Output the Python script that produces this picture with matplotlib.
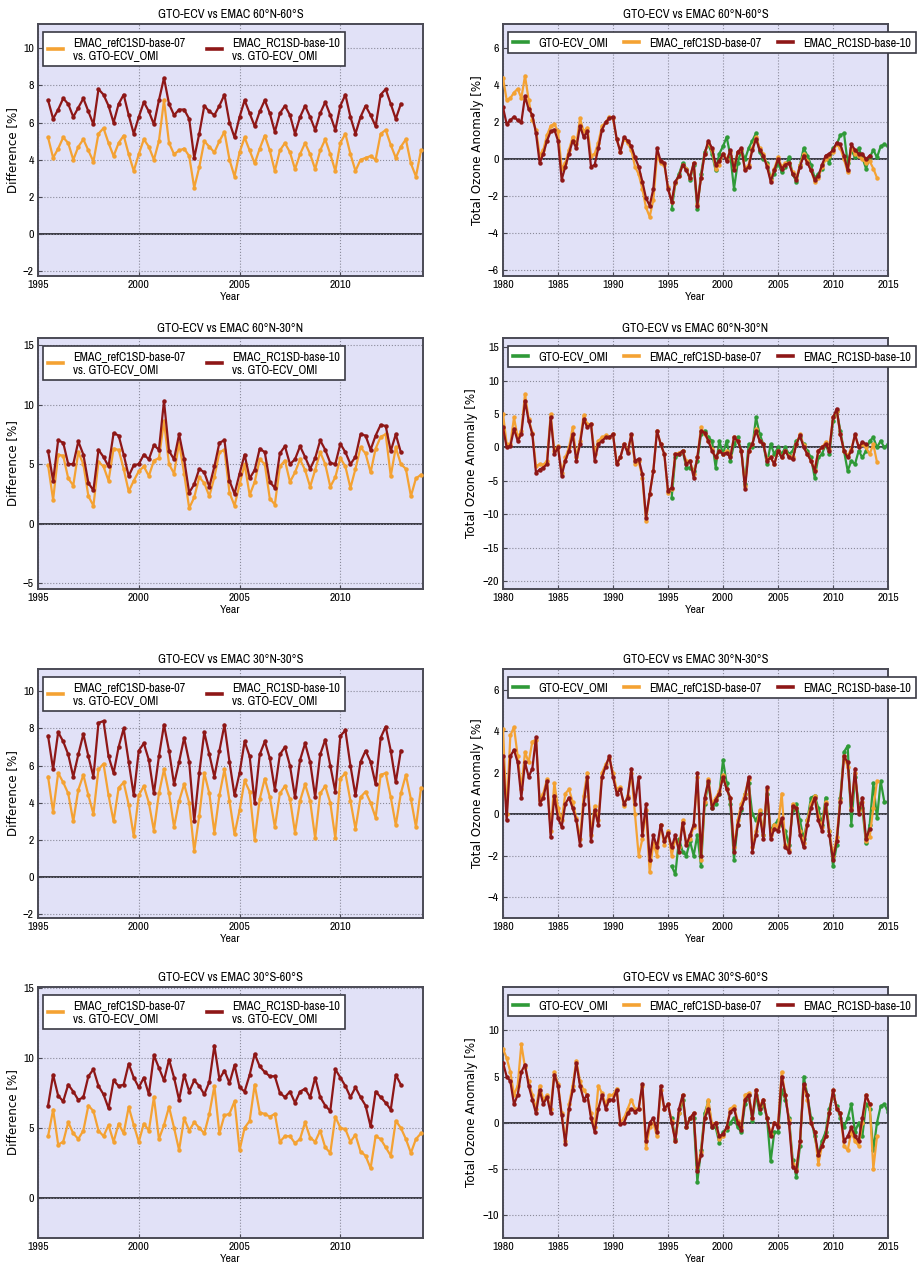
import numpy as np
import matplotlib
matplotlib.use("Agg")
import matplotlib.pyplot as plt
from matplotlib import font_manager

NARROW = ["Archivo Narrow", "Liberation Sans Narrow", "Liberation Sans", "DejaVu Sans"]
WIDE = ["DejaVu Sans"]

C_REF = "#f4a233"
C_RC1 = "#8e1717"
C_OMI = "#2f9a38"
BG = "#e1e1f7"

TITLES = ["GTO-ECV vs EMAC 60°N-60°S", "GTO-ECV vs EMAC 60°N-30°N",
          "GTO-ECV vs EMAC 30°N-30°S", "GTO-ECV vs EMAC 30°S-60°S"]
LAB_REF = "EMAC_refC1SD-base-07"
LAB_RC1 = "EMAC_RC1SD-base-10"
LAB_OMI = "GTO-ECV_OMI"

# ---- difference panels (left), quarterly values starting 1995.5 ----
DIFF_START = 1995.5
diff_rc1_6060 = [7.2, 6.2,
                 6.7, 7.3, 7.0, 6.3, 6.8, 7.3, 6.6, 5.9, 7.8, 7.5, 6.9, 6.0, 7.0, 7.5, 6.4, 5.4,
                 6.3, 7.1, 6.6, 5.9, 7.2, 8.4, 7.0, 6.4, 6.7, 6.7, 6.2, 4.1, 5.4, 6.9, 6.6, 6.4,
                 6.9, 7.5, 6.0, 5.2, 6.3, 7.2, 6.5, 5.8, 6.6, 7.2, 6.5, 5.5, 6.5, 6.9, 6.4, 5.4,
                 6.3, 6.9, 6.3, 5.6, 6.5, 7.1, 6.4, 5.6, 6.9, 7.5, 6.3, 5.4, 6.3, 6.9, 6.4, 5.8,
                 7.5, 7.8, 7.0, 6.2, 7.0]
diff_ref_6060 = [5.2, 4.1,
                 4.6, 5.2, 4.9, 4.0, 4.7, 5.1, 4.5, 3.9, 5.4, 5.7, 4.9, 4.2, 4.9, 5.3, 4.3, 3.4,
                 4.3, 5.1, 4.7, 4.0, 5.0, 7.2, 4.9, 4.3, 4.5, 4.6, 4.2, 2.5, 3.6, 5.0, 4.7, 4.4,
                 5.0, 5.5, 4.0, 3.1, 4.4, 5.2, 4.5, 3.8, 4.6, 5.3, 4.5, 3.4, 4.5, 4.9, 4.4, 3.5,
                 4.3, 4.9, 4.3, 3.5, 4.5, 5.1, 4.3, 3.4, 4.9, 5.4, 4.3, 3.4, 4.0, 4.1, 4.2, 4.0,
                 5.4, 5.6, 4.8, 4.1, 4.7, 5.1, 3.8, 3.1, 4.5]
diff_rc1_6030 = [6.1, 3.6,
                 7.0, 6.8, 5.0, 5.0, 6.9, 5.8, 3.4, 2.8, 6.2, 5.6, 4.8, 7.6, 7.4, 5.8, 4.0, 4.9,
                 5.0, 5.8, 5.4, 6.6, 6.2, 10.3, 6.1, 5.4, 7.5, 5.4, 2.6, 3.3, 4.6, 4.3, 3.1, 4.8,
                 6.8, 7.0, 3.6, 2.5, 4.2, 5.8, 3.8, 4.5, 6.3, 6.0, 3.5, 3.0, 5.9, 6.5, 5.0, 5.4,
                 6.5, 5.6, 4.6, 5.5, 7.0, 6.2, 5.1, 5.0, 6.7, 6.0, 5.0, 5.6, 7.5, 7.4, 6.2, 7.4,
                 8.3, 8.2, 6.1, 7.5, 6.0]
diff_ref_6030 = [4.9, 2.0,
                 5.8, 5.7, 3.8, 3.2, 6.0, 5.0, 2.3, 1.5, 5.2, 4.8, 3.6, 6.3, 6.2, 4.6, 2.7, 3.6,
                 4.4, 4.8, 4.0, 5.3, 5.5, 8.6, 5.0, 4.2, 6.8, 4.2, 1.3, 2.2, 3.9, 3.4, 2.3, 3.9,
                 6.0, 6.2, 2.6, 1.5, 3.3, 5.0, 2.4, 3.5, 5.4, 5.0, 2.1, 1.6, 4.8, 5.3, 3.5, 4.3,
                 5.4, 4.5, 3.1, 4.5, 6.0, 5.0, 3.1, 3.9, 5.5, 4.8, 3.0, 4.6, 6.4, 5.9, 4.3, 6.3,
                 7.3, 7.5, 4.0, 6.4, 5.0, 4.6, 2.3, 3.8, 4.1]
diff_rc1_3030 = [7.6, 5.8,
                 7.8, 7.3, 6.6, 5.4, 6.6, 7.7, 6.5, 5.4, 8.3, 8.4, 6.5, 5.6, 7.0, 8.0, 6.2, 4.4,
                 6.8, 7.2, 6.3, 4.5, 6.5, 8.2, 6.8, 5.0, 6.2, 7.5, 6.2, 3.0, 5.6, 7.8, 6.6, 5.4,
                 6.8, 8.2, 6.2, 4.4, 5.6, 7.3, 6.5, 4.0, 6.6, 7.3, 6.4, 4.7, 6.6, 7.0, 6.0, 4.3,
                 6.3, 7.2, 6.2, 4.3, 6.6, 7.4, 6.0, 4.6, 7.6, 7.9, 6.0, 4.4, 6.2, 6.8, 6.2, 5.0,
                 7.5, 8.1, 6.8, 5.1, 6.8]
diff_ref_3030 = [5.4, 3.5,
                 5.6, 5.1, 4.5, 3.0, 4.7, 5.5, 4.4, 3.4, 5.8, 6.1, 4.4, 3.0, 4.8, 5.1, 3.9, 2.2,
                 4.4, 4.9, 4.0, 2.5, 4.5, 5.8, 4.5, 2.7, 4.1, 5.0, 4.0, 1.4, 3.3, 5.6, 4.5, 2.4,
                 4.4, 5.8, 4.1, 2.3, 3.6, 5.2, 4.6, 2.0, 4.2, 5.3, 4.3, 2.7, 4.5, 4.9, 4.2, 2.4,
                 4.1, 5.0, 4.1, 2.1, 4.5, 4.9, 4.0, 2.1, 5.3, 5.6, 4.1, 2.6, 4.3, 4.6, 4.0, 3.2,
                 5.5, 5.6, 4.3, 2.8, 4.5, 5.5, 4.2, 2.7, 4.8]
diff_rc1_3060 = [6.6, 8.8,
                 7.3, 6.9, 8.1, 7.6, 7.0, 7.2, 8.7, 9.2, 8.0, 7.4, 6.4, 8.4, 8.0, 8.1, 9.6, 8.6,
                 7.9, 8.6, 7.4, 10.2, 9.3, 8.4, 9.9, 8.6, 7.0, 8.8, 7.6, 8.4, 8.0, 7.4, 8.3, 10.9,
                 8.5, 9.1, 8.2, 9.5, 7.9, 7.6, 8.8, 10.3, 9.4, 9.0, 8.7, 8.7, 7.5, 7.2, 7.6, 6.8,
                 7.6, 7.8, 7.2, 8.6, 7.2, 6.6, 6.2, 9.2, 8.6, 8.0, 7.2, 7.9, 7.2, 6.6, 5.1, 7.6,
                 7.2, 6.8, 6.3, 8.8, 8.1]
diff_ref_3060 = [4.4, 6.3,
                 3.8, 4.0, 5.4, 4.6, 4.2, 4.8, 6.6, 6.2, 4.8, 4.4, 5.2, 4.0, 5.3, 4.6, 6.5, 5.2,
                 4.0, 5.3, 4.8, 7.2, 4.2, 5.2, 6.5, 5.0, 3.4, 5.7, 4.8, 5.4, 5.0, 4.6, 6.0, 8.0,
                 4.6, 5.9, 6.0, 6.9, 3.4, 5.0, 5.5, 8.1, 6.1, 6.0, 5.8, 6.0, 4.0, 4.4, 4.4, 3.9,
                 4.2, 5.4, 4.3, 4.0, 4.8, 3.6, 3.2, 5.8, 5.0, 4.9, 4.0, 4.5, 3.3, 3.0, 2.1, 4.4,
                 4.2, 3.6, 3.0, 5.5, 5.0, 4.2, 3.2, 4.2, 4.6]

# ---- anomaly panels (right), three values per year ----
ANOM_START = 1980.0
OMI_START = 1995.0 + 1 / 3
anom_rc1_6060 = [2.8, 1.9, 2.1, 2.3, 2.1, 2.0, 3.4, 2.7, 2.4, 1.4, -0.2, 0.3, 1.0, 1.5, 1.6,
                 1.0, -1.1, -0.4, 0.3, 1.0, 0.6, 1.8, 1.2, 1.5, -0.4, -0.3, 0.6, 1.6, 2.0, 2.2,
                 2.3, 1.1, 0.4, 1.2, 1.0, 0.7, 0.1, -0.4, -1.2, -2.1, -2.5, -1.6, 0.6, -0.1, -0.2,
                 -1.6, -2.3, -1.2, -0.9, -0.3, -0.6, -1.0, -0.2, -2.5, -1.0, 0.3, 1.0, 0.6, -0.3, -0.1,
                 0.3, -0.1, 0.5, -0.6, 0.4, 0.6, -0.6, -0.4, 0.5, 1.1, 0.5, 0.2, -0.4, -1.2, -0.6,
                 0.0, -0.5, -0.3, -0.2, -0.8, -1.1, -0.4, 0.2, -0.2, -0.6, -1.1, -0.9, -0.3, 0.2, 0.3,
                 0.5, 0.9, 0.8, 0.2, -0.6, 0.8, 0.5, 0.3, 0.3, 0.0, 0.2]
anom_ref_6060 = [4.4, 3.2, 3.3, 3.6, 3.8, 3.3, 4.5, 3.2, 2.1, 1.6, 0.2, 0.5, 1.3, 1.8, 1.9,
                 1.5, -0.5, -0.2, 0.5, 1.2, 0.8, 2.2, 1.5, 1.7, 0.2, 0.3, 0.9, 1.8, 2.0, 2.3,
                 2.2, 1.1, 0.4, 1.1, 0.9, 0.5, -0.4, -0.8, -1.6, -2.6, -3.1, -2.2, 0.2, -0.2, -0.3,
                 -1.5, -2.3, -1.3, -0.9, -0.3, -0.5, -1.0, -0.2, -2.4, -1.0, 0.3, 0.9, 0.5, -0.5, -0.3,
                 0.3, 0.0, 0.4, -0.4, 0.4, 0.5, -0.5, -0.3, 0.6, 1.2, 0.6, 0.3, -0.3, -1.1, -0.5,
                 0.1, -0.4, -0.2, -0.2, -0.7, -1.0, -0.3, 0.3, -0.1, -0.6, -1.2, -1.0, -0.4, 0.0, 0.2,
                 0.4, 0.8, 0.6, 0.0, -0.7, 0.6, 0.3, 0.2, 0.0, -0.2, -0.1, -0.5, -1.0]
anom_omi_6060 = [-2.7, -1.3,
                 -0.8, -0.2, -0.5, -1.1, -0.3, -2.7, -0.8, 0.4, 0.8, 0.3, -0.6, 0.3,
                 0.7, 1.2, 0.2, -1.6, -0.2, 0.5, 0.0, 0.6, 1.0, 1.4, 0.4, 0.0, -0.2, -1.0, -0.8,
                 -0.2, -0.7, -0.4, 0.1, -0.8, -1.2, -0.3, 0.6, 0.2, -0.3, -1.0, -0.8, -0.5, 0.1, -0.2,
                 0.6, 0.8, 1.3, 1.4, -0.2, 0.5, 0.1, 0.6, 0.1, -0.5, 0.1, 0.5, 0.1, 0.7, 0.8, 0.7]
anom_rc1_6030 = [3.0, 0.0, 0.2, 2.8, 1.0, 2.0, 7.0, 4.0, 2.0, -3.8, -3.3, -3.0, -2.5, 4.5, -1.0,
                 0.0, -4.2, -2.0, -0.5, 2.0, -2.0, 0.5, 4.2, 3.0, 3.5, -2.0, 0.5, 1.0, 1.5, 1.5,
                 2.0, -2.5, -1.5, 0.5, -0.8, 2.0, -2.0, -1.7, -4.0, -10.5, -7.0, -3.5, 2.5, 0.5, -1.0,
                 -6.5, -6.0, -1.0, -1.0, -0.5, -2.5, -2.0, -4.5, -1.5, 2.5, 2.2, 1.0, -0.5, -1.5, -0.5,
                 -1.0, -0.8, -1.5, 1.5, 1.0, -0.5, -6.2, -0.5, 0.5, 2.5, 1.0, 0.5, -2.0, -1.5, -2.5,
                 -0.5, -1.5, -0.5, -1.5, -1.8, 0.5, 1.8, 0.0, -1.0, -2.0, -3.5, -0.5, 0.0, 0.5, -0.5,
                 4.5, 5.8, 2.0, -0.5, -1.5, -0.5, 2.0, 0.0, 0.8, 0.5]
anom_ref_6030 = [5.0, 0.5, 0.5, 4.5, 1.5, 2.5, 8.0, 4.3, 2.2, -2.8, -2.5, -2.6, -2.0, 5.0, -0.5,
                 0.2, -3.8, -1.5, 0.0, 3.0, -1.5, 1.0, 4.8, 3.5, 3.5, -1.0, 1.0, 1.5, 1.8, 1.5,
                 2.0, -2.3, -1.5, 0.5, -0.5, 1.8, -2.5, -2.0, -4.5, -11.0, -7.0, -3.5, 2.5, 0.5, -1.0,
                 -6.8, -6.2, -1.0, -0.8, -0.5, -2.0, -2.0, -4.0, -1.5, 3.0, 2.0, 1.0, -0.3, -1.5, -0.5,
                 -1.0, -0.5, -1.2, 1.5, 1.0, -0.5, -5.8, -0.5, 0.5, 2.8, 1.0, 0.5, -1.8, -1.5, -2.5,
                 -0.5, -1.5, -0.5, -1.3, -1.5, 0.5, 2.0, 0.3, -1.0, -2.0, -3.3, -0.5, 0.0, 0.8, -0.3,
                 4.5, 5.5, 2.0, -0.5, -1.2, -0.2, 1.8, 0.2, 0.5, 0.0, -1.0, 0.5, -2.2]
anom_omi_6030 = [-7.5, -1.5,
                 -1.0, -0.5, -3.0, -3.0, -3.5, -2.0, 2.0, 2.5, 1.5, 1.0, -3.0, 1.0,
                 -1.0, 1.0, -2.0, 0.5, 1.5, -0.5, -5.5, 0.5, 0.0, 4.5, 2.0, 0.5, -2.5, 0.5, -1.0,
                 0.0, -1.0, 0.0, -1.0, -0.5, 1.0, 1.5, 0.5, -0.5, -1.5, -4.5, -1.5, -1.0, 0.5, -1.0,
                 4.0, 5.5, 2.5, -0.5, -3.5, -2.0, -2.5, -0.5, -1.5, -0.5, 1.0, 1.5, 0.0, 1.0, 0.0, 0.5]
anom_rc1_3030 = [2.8, -0.3, 2.8, 3.1, 2.5, 0.8, 2.5, 1.8, 2.2, 3.7, 0.5, 0.8, 1.6, -1.1, 0.9,
                 -0.2, -0.6, 0.5, 0.8, 0.3, -0.3, -1.5, 0.5, 1.8, -1.3, 0.2, -0.5, 1.8, 2.3, 2.8,
                 1.8, 1.0, 1.2, 0.5, 0.8, 2.2, 0.5, 1.8, -1.0, 0.5, -2.2, -1.0, -1.6, -0.5, -1.3,
                 -0.9, -1.6, -1.0, -1.8, -0.4, -1.5, -1.0, -0.5, 2.0, -2.0, 0.8, 1.6, 0.3, 0.7, 1.0,
                 1.8, 1.2, 0.8, -1.8, -0.5, 0.3, 0.8, 1.8, -1.8, -1.0, 0.0, -1.2, 1.3, -1.2, -0.7,
                 -0.8, -0.2, -1.6, -1.8, 0.4, 0.3, -1.0, -1.6, -0.5, 0.3, 0.8, -0.3, -0.8, 0.5, -1.0,
                 -2.2, -1.3, 0.6, 2.8, 2.5, 0.2, 2.2, 0.0, 0.8, -1.2, -0.7]
anom_ref_3030 = [4.1, 0.0, 3.8, 4.2, 2.8, 1.2, 3.0, 2.5, 3.5, 3.6, 0.7, 1.0, 1.7, -0.8, 1.5,
                 0.3, -0.3, 1.0, 1.2, 0.6, -0.2, -1.2, 0.9, 2.0, -1.0, 0.4, -0.3, 2.0, 2.4, 2.7,
                 2.0, 1.2, 1.3, 0.4, 0.9, 2.0, 0.0, -2.0, -1.2, 0.2, -2.8, -1.4, -2.0, -0.5, -1.5,
                 -0.8, -2.0, -1.2, -1.6, -0.3, -1.4, -1.2, -0.6, 1.8, -2.2, 0.6, 1.7, 0.5, 0.8, 1.1,
                 1.9, 1.2, 0.8, -1.6, -0.3, 0.5, 1.0, 1.7, -1.6, -0.8, 0.2, -1.0, 1.2, -1.0, -0.5,
                 -0.6, 1.0, -1.5, -1.7, 0.5, 0.3, -0.8, -1.4, -0.3, 0.5, 0.9, -0.1, -0.6, 0.6, -0.8,
                 -2.0, -1.1, 0.7, 2.8, 2.3, 0.3, 2.0, 0.2, 0.6, -1.3, -1.1, 0.3, 1.6]
anom_omi_3030 = [-2.5, -2.9,
                 -1.2, -1.8, -2.0, -1.3, -2.0, -1.0, -2.5, 0.5, 1.5, 0.3, 0.5, 1.0,
                 2.6, 1.5, 0.5, -2.2, -0.5, 0.2, 1.0, 1.5, 0.0, -0.3, 0.1, -1.0, 1.0, -0.8, -0.5,
                 -0.3, -0.5, -0.8, -1.5, 0.2, 0.5, -0.3, -1.2, -0.3, 0.8, 0.9, 0.3, -0.5, 0.8, -0.8,
                 -2.5, -1.5, 0.8, 3.0, 3.3, -0.5, 1.8, 0.5, 0.3, -1.4, -0.5, 1.5, -0.2, 1.6, 0.6, 0.6]
anom_rc1_3060 = [6.5, 5.0, 4.5, 2.0, 3.0, 5.5, 6.3, 4.0, 2.5, 1.0, 3.5, 2.0, 2.8, 1.0, 5.2,
                 4.0, 0.8, -2.3, 1.5, 3.5, 6.5, 4.0, 2.5, 3.0, 0.5, -1.0, 1.5, 3.0, 1.5, 2.5,
                 2.5, 3.5, -0.2, 0.0, 1.0, 1.5, 1.2, 1.5, 4.2, -2.0, 0.0, 0.5, -1.0, 4.0, 1.5,
                 2.0, 0.0, -2.0, 1.5, 3.0, -0.5, 0.5, 1.0, -5.2, -3.5, 0.5, 1.5, -0.5, 0.0, -1.5,
                 -1.2, -0.5, 1.2, 1.5, 0.0, -0.8, 2.5, 3.0, 0.5, 3.5, 1.5, 2.5, 0.5, -1.5, 0.0,
                 -0.5, 5.0, 3.0, 0.0, -4.8, -5.2, -2.0, 4.2, 3.0, 0.0, -1.0, -3.5, -2.5, -1.5, 1.0,
                 3.5, 1.5, 1.0, -2.0, -1.5, -0.5, -1.5, -2.0, 0.5, 3.0, 2.0]
anom_ref_3060 = [8.0, 7.0, 5.5, 3.0, 4.0, 8.5, 6.0, 4.5, 3.0, 1.5, 4.0, 2.5, 3.0, 1.5, 5.5,
                 4.2, 1.0, -2.0, 2.0, 4.0, 6.7, 4.5, 3.5, 3.0, 1.0, -0.5, 4.0, 3.2, 2.0, 3.0,
                 3.0, 3.7, 0.0, 0.5, 1.5, 2.5, 1.5, 1.5, 4.0, -2.8, -0.5, 0.0, -1.5, 3.5, 1.5,
                 2.0, 0.2, -2.0, 1.0, 3.0, -0.5, 0.5, 1.0, -4.8, -3.2, 0.5, 2.5, -0.2, 0.0, -1.8,
                 -1.5, -0.5, 1.5, 1.8, 0.2, -0.5, 3.0, 3.2, 0.5, 3.5, 1.8, 2.5, 0.5, -1.2, 0.0,
                 -0.3, 5.5, 3.0, 0.3, -4.5, -5.0, -2.0, 4.0, 2.5, 0.0, -1.0, -4.5, -2.5, -1.5, 1.0,
                 3.5, 1.5, 1.0, -2.5, -3.0, -1.0, -2.0, -2.5, 0.0, 3.0, 2.0, -5.0, -1.5]
anom_omi_3060 = [0.5, -1.8,
                 1.0, 2.5, -0.5, 0.5, 0.5, -6.4, -3.0, 1.0, 2.3, -0.5, -0.5, -2.2,
                 -1.0, -0.8, 0.0, 0.5, -0.5, -1.0, 2.0, 3.0, 0.2, 3.0, 1.0, 2.0, 0.5, -4.2, -1.0,
                 -1.0, 3.5, 2.5, 0.5, -4.0, -5.9, -2.5, 5.0, 3.0, 0.5, -1.5, -3.5, -2.0, -1.0, 1.5,
                 3.0, 1.8, 0.5, -0.5, 0.5, 2.0, -1.0, 0.0, -1.5, 2.0, 1.5, -3.0, 0.0, 1.8, 2.0, 1.2]

DIFF = [(diff_ref_6060, diff_rc1_6060), (diff_ref_6030, diff_rc1_6030),
        (diff_ref_3030, diff_rc1_3030), (diff_ref_3060, diff_rc1_3060)]
ANOM = [(anom_omi_6060, anom_ref_6060, anom_rc1_6060), (anom_omi_6030, anom_ref_6030, anom_rc1_6030),
        (anom_omi_3030, anom_ref_3030, anom_rc1_3030), (anom_omi_3060, anom_ref_3060, anom_rc1_3060)]
DIFF_YLIM = [(-2.25, 11.3), (-5.5, 15.6), (-2.2, 11.2), (-2.9, 15.1)]
DIFF_YTICKS = [np.arange(-2, 11, 2), np.arange(-5, 16, 5), np.arange(-2, 11, 2), np.arange(0, 16, 5)]
ANOM_YLIM = [(-6.3, 7.3), (-21.2, 16.4), (-5.0, 7.0), (-12.5, 14.7)]
ANOM_YTICKS = [np.arange(-6, 7, 2), np.arange(-20, 16, 5), np.arange(-4, 7, 2), np.arange(-10, 11, 5)]

W, H = 917, 1267
ROWS = [(24, 276), (338, 589), (669, 918), (987, 1238)]


def times(start, step, vals):
    return start + step * np.arange(len(vals))


def style(ax, title, ylim, yticks, xlim, xticks, ylabel):
    ax.set_facecolor(BG)
    ax.set_xlim(*xlim); ax.set_ylim(*ylim)
    ax.set_xticks(xticks); ax.set_yticks(yticks)
    ax.grid(True, ls=":", color="#8a8a9a", lw=0.8)
    ax.axhline(0, color="#3a3a44", lw=1.4, zorder=1)
    for s in ax.spines.values():
        s.set_color("#4a4a55"); s.set_linewidth(1.4)
    ax.tick_params(labelsize=8.5, length=3, color="#4a4a55", direction="in", pad=3)
    for lab in ax.get_xticklabels() + ax.get_yticklabels():
        lab.set_family(NARROW)
    ax.set_title(title, fontsize=9, family=NARROW, pad=4)
    ax.set_xlabel("Year", fontsize=8.5, family=NARROW, labelpad=1)
    ax.set_ylabel(ylabel, fontsize=8.6, family=WIDE, labelpad=3)


def line(ax, t, v, c, label, z):
    ax.plot(t, v, "-", color=c, lw=1.6, marker="o", ms=2.2, mec=c, label=label, zorder=z)


def legend(ax, ncol, colsp):
    leg = ax.legend(ncol=ncol, loc="upper left", bbox_to_anchor=(0.013, 0.968), borderaxespad=0,
                    fancybox=False, edgecolor="#3a3a44", framealpha=1, handlelength=1.25,
                    columnspacing=colsp, handletextpad=0.8, borderpad=0.4,
                    prop=font_manager.FontProperties(family=NARROW, size=8.8))
    leg.get_frame().set_linewidth(1.2)
    for ln in leg.get_lines():
        ln.set_linewidth(2.6); ln.set_marker("")


fig = plt.figure(figsize=(W / 100, H / 100), dpi=100)
for i, (top, bot) in enumerate(ROWS):
    y0 = 1 - bot / H; h = (bot - top) / H
    # left: difference
    ax = fig.add_axes([38 / W, y0, 385 / W, h])
    ref, rc1 = DIFF[i]
    line(ax, times(DIFF_START, 0.25, ref), ref, C_REF, LAB_REF + "\nvs. GTO-ECV_OMI", 3)
    line(ax, times(DIFF_START, 0.25, rc1), rc1, C_RC1, LAB_RC1 + "\nvs. GTO-ECV_OMI", 4)
    style(ax, TITLES[i], DIFF_YLIM[i], DIFF_YTICKS[i], (1995, 2014.1), [1995, 2000, 2005, 2010],
          "Difference [%]")
    legend(ax, 2, 1.8)

    # right: anomaly
    ax = fig.add_axes([503 / W, y0, 385 / W, h])
    omi, ref, rc1 = ANOM[i]
    line(ax, times(OMI_START, 1 / 3, omi), omi, C_OMI, LAB_OMI, 2)
    line(ax, times(ANOM_START, 1 / 3, ref), ref, C_REF, LAB_REF, 3)
    line(ax, times(ANOM_START, 1 / 3, rc1), rc1, C_RC1, LAB_RC1, 4)
    style(ax, TITLES[i], ANOM_YLIM[i], ANOM_YTICKS[i], (1980, 2015), np.arange(1980, 2016, 5),
          "Total Ozone Anomaly [%]")
    legend(ax, 3, 1.35)

fig.savefig("out.png", dpi=100, facecolor="white")
